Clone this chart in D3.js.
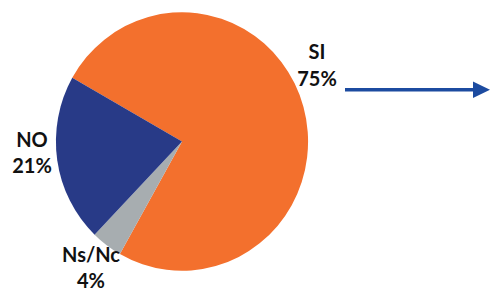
<!DOCTYPE html>
<html><head><meta charset="utf-8">
<script src="https://cdn.jsdelivr.net/npm/d3@7"></script>
<style>html,body{margin:0;padding:0;background:#fff;}svg{display:block;}</style>
</head><body>
<svg id="chart" width="491" height="291"></svg>
<script>
const categories = ["SI", "Ns/Nc", "NO"];
const values = [75, 4, 21];
const valueLabels = ["75%", "4%", "21%"];
const colors = ["#F3702D", "#A7ADB0", "#283A87"];

const svg = d3.select("#chart");
const cx = 182, cy = 141.5, r = 128;
const startDeg = 299.5;
const pie = d3.pie().sort(null).value(d => d)
  .startAngle(startDeg * Math.PI / 180)
  .endAngle(startDeg * Math.PI / 180 + 2 * Math.PI);
const arcs = pie(values);
const arc = d3.arc().innerRadius(0).outerRadius(r);

const g = svg.append("g").attr("transform", `translate(${cx},${cy}) scale(0.985,1.01)`);
g.selectAll("path").data(arcs).enter().append("path")
  .attr("d", arc).attr("fill", (d, i) => colors[i]);

const labelPos = [[317, 59, 86], [91, 262, 288], [32, 147, 173]];
const font = "Lato, 'DejaVu Sans', sans-serif";
categories.forEach((c, i) => {
  const t = svg.append("text").attr("text-anchor", "middle")
    .attr("font-family", font).attr("font-weight", 700).attr("font-size", 20).attr("fill", "#111");
  t.append("tspan").attr("x", labelPos[i][0]).attr("y", labelPos[i][1]).text(c);
  t.append("tspan").attr("x", labelPos[i][0]).attr("y", labelPos[i][2]).text(valueLabels[i]);
});

// arrow
const arrowColor = "#1C4BA0";
svg.append("line").attr("x1", 345).attr("x2", 475).attr("y1", 89.7).attr("y2", 89.7)
  .attr("stroke", arrowColor).attr("stroke-width", 3.5);
svg.append("path").attr("d", d3.line()([[473, 81.5], [490, 89.7], [473, 98]]) + "Z")
  .attr("fill", arrowColor);
</script>
</body></html>
